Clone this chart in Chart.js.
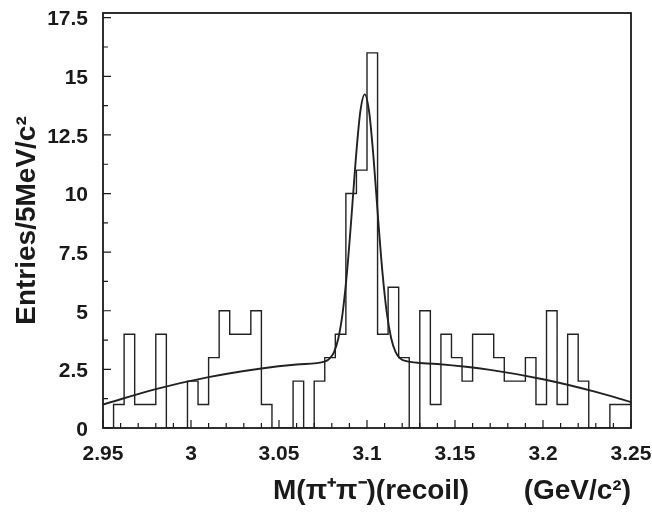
<!DOCTYPE html>
<html>
<head>
<meta charset="utf-8">
<script src="https://cdn.jsdelivr.net/npm/chart.js@4.4.1/dist/chart.umd.min.js"></script>
<style>
  body { margin: 0; background: #fff; }
  #chart { display: block; }
</style>
</head>
<body>
<canvas id="chart" width="652" height="513"></canvas>
<script>
// histogram: 50 bins of 6 MeV starting at 2.95
const binLow = 2.95;
const binWidth = 0.006;
const counts = [0, 1, 4, 1, 1, 4, 0, 0, 2, 1,
                3, 5, 4, 4, 5, 1, 0, 0, 2, 0,
                2, 3, 4, 10, 11, 16, 4, 6, 3, 0,
                5, 1, 4, 3, 2, 4, 4, 3, 2, 2,
                3, 1, 5, 1, 4, 2, 0, 0, 1, 1];

// fit curve
const fitX = [2.95, 2.98, 3.01, 3.04, 3.06, 3.0762, 3.0787, 3.0812, 3.0837, 3.0862,
              3.0887, 3.0912, 3.0937, 3.0962, 3.0987, 3.1012, 3.1037, 3.1062, 3.1087, 3.1112,
              3.1137, 3.1162, 3.1187, 3.1212, 3.14, 3.17, 3.20, 3.23, 3.25];
const fitY = [1.00, 1.66, 2.17, 2.54, 2.71, 2.84, 2.96, 3.23, 3.82, 4.93,
              6.70, 9.03, 11.53, 13.49, 14.23, 13.49, 11.54, 9.04, 6.70, 4.94,
              3.84, 3.25, 2.98, 2.87, 2.73, 2.48, 2.08, 1.54, 1.10];

const xTicks = [2.95, 3.0, 3.05, 3.1, 3.15, 3.2, 3.25];
const xTickLabels = ['2.95', '3', '3.05', '3.1', '3.15', '3.2', '3.25'];
const yTicks = [0, 2.5, 5, 7.5, 10, 12.5, 15, 17.5];
const yTickLabels = ['0', '2.5', '5', '7.5', '10', '12.5', '15', '17.5'];

const histPoints = counts.map((c, i) => ({ x: binLow + i * binWidth, y: c }));
histPoints.push({ x: binLow + counts.length * binWidth, y: counts[counts.length - 1] });
const fitPoints = fitX.map((x, i) => ({ x: x, y: fitY[i] }));

const ink = '#1a1a1a';
const fontFam = '"Liberation Sans", Arial, Helvetica, sans-serif';

const frameTicks = {
  id: 'frameTicks',
  afterDatasetsDraw(chart) {
    const { ctx, chartArea: a, scales: { x, y } } = chart;
    ctx.save();
    ctx.strokeStyle = ink;
    ctx.lineWidth = 1.2;
    ctx.beginPath();
    for (let i = 0; i <= 30; i++) {
      const px = x.getPixelForValue(2.95 + i * 0.01);
      const len = i % 5 === 0 ? 8 : 5;
      ctx.moveTo(px, a.bottom);
      ctx.lineTo(px, a.bottom - len);
    }
    for (let i = 0; i <= 14; i++) {
      const py = y.getPixelForValue(i * 1.25);
      const len = i % 2 === 0 ? 8 : 5;
      ctx.moveTo(a.left, py);
      ctx.lineTo(a.left + len, py);
    }
    ctx.stroke();
    ctx.lineWidth = 1.8;
    ctx.strokeRect(a.left, a.top, a.right - a.left, a.bottom - a.top);
    ctx.restore();
  }
};

function noPad(scale) {
  scale.paddingLeft = 0;
  scale.paddingRight = 0;
  scale.paddingTop = 0;
  scale.paddingBottom = 0;
}

new Chart(document.getElementById('chart'), {
  type: 'line',
  data: {
    datasets: [{
      data: histPoints,
      stepped: 'before',
      borderColor: '#222',
      borderWidth: 1.4,
      pointRadius: 0,
      fill: false
    }, {
      data: fitPoints,
      borderColor: '#222',
      borderWidth: 1.9,
      pointRadius: 0,
      tension: 0.4,
      cubicInterpolationMode: 'monotone',
      fill: false
    }]
  },
  options: {
    responsive: false,
    animation: false,
    devicePixelRatio: 1,
    layout: { padding: { top: 13, right: 21, left: 0, bottom: 0 } },
    plugins: { legend: { display: false }, tooltip: { enabled: false } },
    scales: {
      x: {
        type: 'linear',
        min: 2.95,
        max: 3.25,
        grid: { display: false, drawTicks: false },
        border: { display: false },
        afterBuildTicks: s => { s.ticks = xTicks.map(v => ({ value: v })); },
        afterFit: s => { s.height = 85; noPad(s); },
        ticks: {
          autoSkip: false,
          maxRotation: 0,
          padding: 14,
          color: ink,
          font: { family: fontFam, size: 21, weight: 'bold' },
          callback: (v, i) => xTickLabels[i]
        },
        title: {
          display: true,
          align: 'end',
          text: 'M(π\u207Aπ\u207B)(recoil)       (GeV/c\u00B2)',
          color: ink,
          font: { family: fontFam, size: 28, weight: 'bold' },
          padding: { top: 0, bottom: 5 }
        }
      },
      y: {
        min: 0,
        max: 17.7,
        grid: { display: false, drawTicks: false },
        border: { display: false },
        afterBuildTicks: s => { s.ticks = yTicks.map(v => ({ value: v })); },
        afterFit: s => { s.width = 103; noPad(s); },
        ticks: {
          autoSkip: false,
          padding: 15,
          labelOffset: 2,
          color: ink,
          font: { family: fontFam, size: 21, weight: 'bold' },
          callback: (v, i) => yTickLabels[i]
        },
        title: {
          display: true,
          text: 'Entries/5MeV/c\u00B2',
          color: ink,
          font: { family: fontFam, size: 28, weight: 'bold' },
          padding: { top: 10, bottom: 0 }
        }
      }
    }
  },
  plugins: [frameTicks]
});
</script>
</body>
</html>
